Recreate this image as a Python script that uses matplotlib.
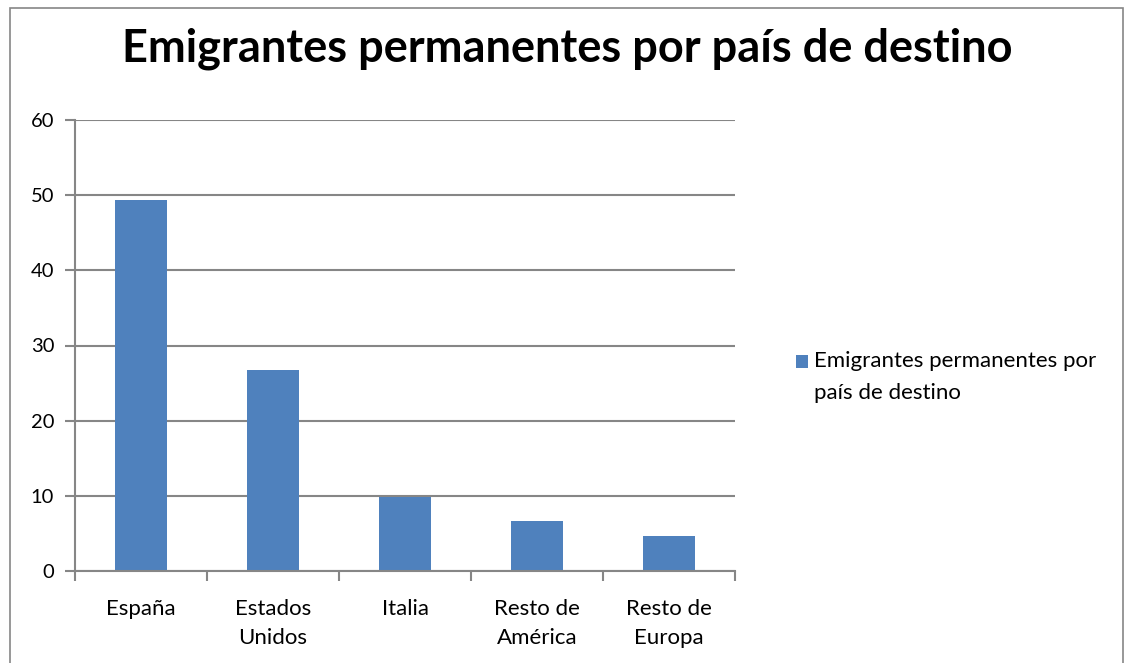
import matplotlib.pyplot as plt
from matplotlib.patches import Rectangle

categorias = ["España", "Estados\nUnidos", "Italia", "Resto de\nAmérica", "Resto de\nEuropa"]
emigrantes = [49.4, 26.7, 9.9, 6.6, 4.6]
serie = "Emigrantes permanentes por\npaís de destino"
titulo = "Emigrantes permanentes por país de destino"

azul = "#4F81BD"
gris = "#868686"
fuente = "Lato"
W, H = 1134, 663

fig = plt.figure(figsize=(W / 100, H / 100), dpi=100)
# borde del área del gráfico
fig.patches.append(Rectangle((10 / W, -0.01), 1113 / W, 1 - 8 / H + 0.01, transform=fig.transFigure,
                             fill=False, edgecolor=gris, linewidth=1.2))

ax = fig.add_axes([75 / W, 1 - 571 / H, 660 / W, 451 / H])
x = range(len(categorias))
ax.bar(x, emigrantes, width=0.4, color=azul, zorder=3, label=serie)

ax.set_xlim(-0.5, len(categorias) - 0.5)
ax.set_ylim(0, 60)
ax.set_yticks(range(0, 61, 10))
ax.yaxis.grid(True, color=gris, linewidth=1.5, zorder=0)
ax.set_xticks([i - 0.5 for i in range(len(categorias) + 1)])
ax.set_xticklabels([])
ax.set_xticks(list(x), minor=True)
ax.set_xticklabels(categorias, minor=True, fontsize=16, family=fuente, linespacing=1.6, va="top")
ax.tick_params(axis="x", which="minor", length=0, pad=20)
ax.tick_params(axis="x", which="major", length=7, color=gris, width=1.5, direction="out")
ax.tick_params(axis="y", length=7, color=gris, width=1.5, labelsize=14.5, pad=8)
for lab in ax.get_yticklabels():
    lab.set_family(fuente)

for side in ["top", "right"]:
    ax.spines[side].set_visible(False)
for side in ["left", "bottom"]:
    ax.spines[side].set_color(gris)
    ax.spines[side].set_linewidth(1.5)
ax.spines["bottom"].set_zorder(4)

fig.text(0.5, 1 - 49 / H, titulo, ha="center", va="center", fontsize=32.5,
         fontweight="bold", family=fuente)

# leyenda
fig.patches.append(Rectangle((796 / W, 1 - 368 / H), 12 / W, 13 / H, transform=fig.transFigure,
                             facecolor=azul, edgecolor="none"))
fig.text(814 / W, 1 - 351 / H, serie, ha="left", va="top", fontsize=16,
         family=fuente, linespacing=1.75)

fig.savefig("out.png", dpi=100)
